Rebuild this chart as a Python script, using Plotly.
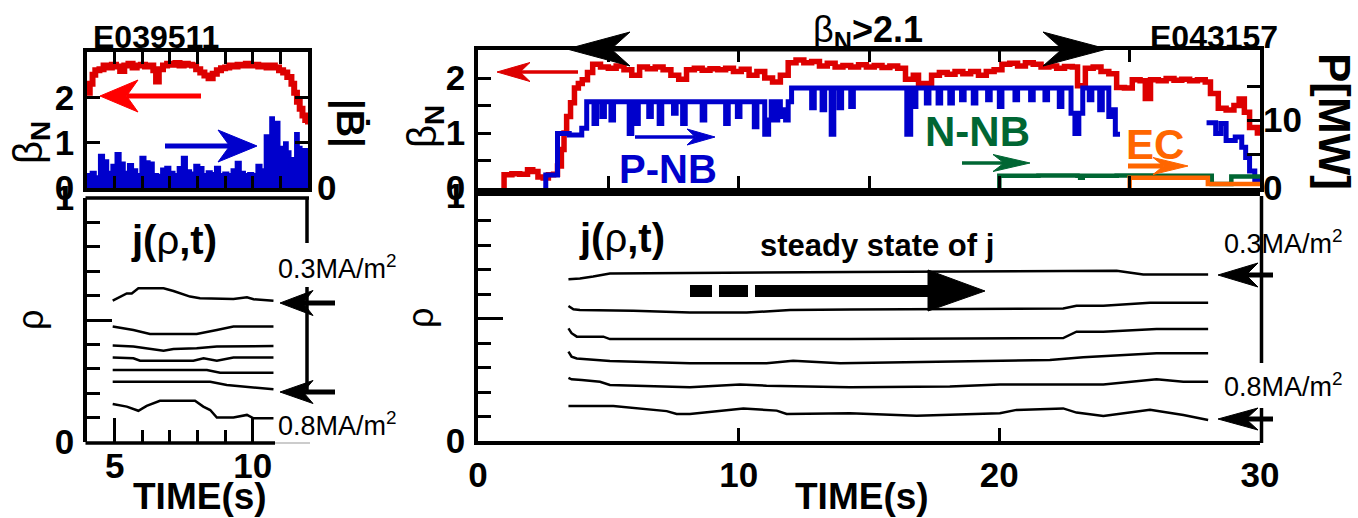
import plotly.graph_objects as go

W, H = 1358, 518
FAM = "Liberation Sans, Arial, Helvetica, sans-serif"
RED = "#dd0000"
BLUE = "#0000cc"
GREEN = "#006633"
ORANGE = "#ff6600"

# ---------------- data: left shot E039511 ----------------
tL_beta = [
    4.0, 4.1, 4.2, 4.3, 4.45, 4.6, 4.75, 4.9, 5.05, 5.2,
    5.35, 5.5, 5.65, 5.8, 5.95, 6.1, 6.25, 6.4, 6.5, 6.6,
    6.75, 6.9, 7.05, 7.2, 7.35, 7.5, 7.65, 7.8, 7.95, 8.1,
    8.25, 8.4, 8.55, 8.7, 8.85, 9.0, 9.15, 9.3, 9.45, 9.6,
    9.75, 9.9, 10.05, 10.2, 10.35, 10.5, 10.65, 10.8, 10.95, 11.1,
    11.25, 11.4, 11.5, 11.6, 11.7, 11.8, 11.9, 12.0]
betaL = [
    2.10, 2.30, 2.50, 2.60, 2.62, 2.70, 2.66, 2.72, 2.68, 2.58,
    2.70, 2.74, 2.66, 2.70, 2.72, 2.68, 2.70, 2.60, 2.35, 2.62,
    2.70, 2.74, 2.72, 2.76, 2.70, 2.74, 2.72, 2.70, 2.62, 2.55,
    2.48, 2.42, 2.52, 2.60, 2.64, 2.66, 2.70, 2.68, 2.72, 2.70,
    2.74, 2.70, 2.72, 2.68, 2.70, 2.66, 2.70, 2.66, 2.60, 2.55,
    2.45, 2.30, 2.10, 1.90, 1.75, 1.60, 1.50, 1.40]

tL_bdot = [
    4.0, 4.15, 4.3, 4.45, 4.6, 4.75, 4.9, 5.05, 5.2, 5.35,
    5.5, 5.65, 5.8, 5.95, 6.1, 6.25, 6.4, 6.55, 6.7, 6.85,
    7.0, 7.15, 7.3, 7.45, 7.6, 7.75, 7.9, 8.05, 8.2, 8.35,
    8.5, 8.65, 8.8, 8.95, 9.1, 9.25, 9.4, 9.55, 9.7, 9.85,
    10.0, 10.15, 10.3, 10.45, 10.55, 10.65, 10.75, 10.85, 10.95, 11.05,
    11.15, 11.25, 11.35, 11.45, 11.55, 11.65, 11.75, 11.85, 11.95, 12.0]
bdotL = [
    0.30, 0.35, 0.25, 0.72, 0.60, 0.35, 0.50, 0.76, 0.55, 0.35,
    0.52, 0.40, 0.30, 0.68, 0.58, 0.55, 0.30, 0.28, 0.42, 0.46,
    0.35, 0.30, 0.45, 0.68, 0.38, 0.33, 0.50, 0.45, 0.30, 0.36,
    0.32, 0.46, 0.30, 0.33, 0.30, 0.40, 0.57, 0.35, 0.30, 0.32,
    0.30, 0.50, 0.40, 1.15, 0.60, 1.55, 0.20, 1.45, 0.90, 0.15,
    1.00, 0.80, 0.10, 0.65, 1.20, 0.90, 0.15, 0.85, 0.30, 0.30]

# j(rho,t) contours, left shot
jL1_t = [4.93, 5.20, 5.44, 5.62, 5.86, 6.77, 7.13, 7.73, 8.09, 9.30, 9.79, 10.03, 10.75]
jL1_r = [0.579, 0.596, 0.609, 0.609, 0.630, 0.630, 0.619, 0.596, 0.589, 0.586, 0.593, 0.585, 0.579]
jL2_t = [4.93, 5.68, 6.28, 7.97, 8.70, 9.30, 10.75]
jL2_r = [0.473, 0.459, 0.443, 0.443, 0.459, 0.473, 0.473]
jL3_t = [4.93, 5.68, 6.77, 7.13, 7.97, 8.70, 10.75]
jL3_r = [0.395, 0.391, 0.374, 0.381, 0.384, 0.391, 0.393]
jL4_t = [4.93, 5.68, 5.92, 7.85, 8.22, 8.70, 9.30, 10.75]
jL4_r = [0.346, 0.343, 0.333, 0.333, 0.343, 0.333, 0.346, 0.346]
jL5_t = [4.93, 8.34, 8.82, 10.75]
jL5_r = [0.295, 0.295, 0.284, 0.284]
jL6_t = [4.93, 8.46, 9.06, 10.03, 10.51, 10.75]
jL6_r = [0.247, 0.247, 0.234, 0.224, 0.216, 0.216]
jL7_t = [4.93, 5.44, 5.86, 6.16, 6.64, 7.91, 8.21, 8.46, 8.70, 9.30, 9.79, 10.03, 10.75]
jL7_r = [0.156, 0.145, 0.128, 0.148, 0.169, 0.169, 0.145, 0.131, 0.100, 0.100, 0.111, 0.097, 0.097]

# ---------------- data: right shot E043157 ----------------
tR_beta = [
    0.97, 1.0, 1.3, 1.6, 1.9, 2.1, 2.3, 2.5, 2.7, 2.9,
    3.05, 3.2, 3.3, 3.4, 3.55, 3.7, 3.85, 4.0, 4.2, 4.4,
    4.7, 5.0, 5.3, 5.6, 5.9, 6.2, 6.5, 6.8, 7.1, 7.4,
    7.7, 8.0, 8.3, 8.6, 8.9, 9.2, 9.5, 9.8, 10.1, 10.4,
    10.7, 11.0, 11.3, 11.6, 11.9, 12.2, 12.5, 12.8, 13.1, 13.4,
    13.7, 14.0, 14.3, 14.6, 14.9, 15.2, 15.5, 15.8, 16.1, 16.4,
    16.7, 16.9, 17.2, 17.4, 17.7, 18.0, 18.3, 18.6, 18.9, 19.2,
    19.5, 19.8, 20.1, 20.4, 20.7, 21.0, 21.3, 21.6, 21.9, 22.2,
    22.5, 22.8, 23.0, 23.3, 23.6, 23.9, 24.2, 24.5, 24.8, 25.1,
    25.4, 25.6, 25.8, 26.1, 26.4, 26.7, 27.0, 27.3, 27.6, 27.9,
    28.1, 28.4, 28.7, 29.0, 29.2, 29.4, 29.6, 29.9, 30.0]
betaR = [
    0.00, 0.24, 0.26, 0.25, 0.33, 0.30, 0.20, 0.18, 0.24, 0.25,
    0.40, 0.70, 1.00, 1.30, 1.55, 1.82, 1.90, 1.97, 2.10, 2.25,
    2.20, 2.18, 2.22, 2.15, 2.05, 2.20, 2.17, 2.20, 2.15, 2.05,
    1.98, 2.15, 2.18, 2.14, 2.17, 2.15, 2.18, 2.12, 2.16, 2.05,
    2.12, 2.00, 1.93, 2.05, 2.28, 2.33, 2.28, 2.30, 2.22, 2.27,
    2.20, 2.23, 2.20, 2.24, 2.20, 2.23, 2.19, 2.22, 2.18, 1.98,
    2.05, 1.90, 1.84, 2.05, 2.10, 2.07, 2.12, 2.08, 2.12, 2.05,
    2.12, 2.15, 2.25, 2.27, 2.22, 2.28, 2.25, 2.20, 2.22, 2.18,
    2.21, 2.20, 1.86, 2.18, 2.20, 2.12, 2.08, 1.83, 1.82, 1.97,
    1.95, 1.63, 1.97, 1.95, 1.99, 1.96, 1.98, 1.95, 1.97, 1.93,
    1.72, 1.45, 1.42, 1.50, 1.62, 1.38, 1.10, 1.00, 0.98]

tR_pnb = [
    2.55, 2.6, 3.05, 3.5, 3.98, 4.17, 4.45, 4.55, 4.75, 4.85,
    5.1, 5.2, 5.8, 5.9, 6.05, 6.15, 6.55, 6.65, 6.95, 7.05,
    7.5, 7.6, 7.85, 7.95, 8.6, 8.7, 9.5, 9.6, 9.95, 10.05,
    10.6, 10.7, 11.0, 11.15, 11.25, 11.4, 11.5, 11.6, 11.7, 11.8,
    11.9, 12.03, 12.8, 12.9, 13.2, 13.3, 13.55, 13.65, 13.85, 13.95,
    14.3, 14.4, 16.45, 16.6, 16.7, 16.8, 17.2, 17.3, 17.65, 17.75,
    18.1, 18.2, 18.55, 18.65, 19.0, 19.1, 19.55, 19.65, 20.0, 20.1,
    20.6, 20.7, 21.2, 21.3, 21.75, 21.85, 22.3, 22.4, 22.75, 22.9,
    23.05, 23.2, 23.45, 23.55, 23.85, 23.95, 24.2, 24.3, 24.45, 24.63,
    24.64, 27.95, 28.3, 28.5, 28.7, 29.05, 29.3, 29.45, 29.6, 29.8,
    30.0]
pnb = [
    0.0, 1.9, 8.0, 7.8, 8.8, 12.7, 9.5, 12.7, 10.5, 12.7,
    10.0, 12.7, 8.0, 12.7, 9.5, 12.7, 10.5, 12.7, 9.5, 12.7,
    11.0, 12.7, 9.5, 12.7, 10.0, 12.7, 9.5, 12.7, 10.5, 12.7,
    9.0, 12.7, 7.9, 10.0, 12.7, 10.0, 12.7, 10.5, 11.5, 10.0,
    12.7, 14.7, 11.8, 14.7, 11.5, 14.7, 7.9, 14.7, 11.8, 14.7,
    12.0, 14.7, 7.9, 14.7, 12.0, 14.7, 12.5, 14.7, 12.5, 14.7,
    12.5, 14.7, 13.0, 14.7, 12.5, 14.7, 13.0, 14.7, 12.0, 14.7,
    13.0, 14.7, 13.0, 14.7, 13.0, 14.7, 12.0, 14.7, 11.0, 8.0,
    11.0, 14.7, 13.0, 14.7, 11.5, 14.7, 10.5, 11.5, 7.9, 7.9,
    None, 9.6, 8.0, 9.5, 7.0, 7.5, 6.0, 4.5, 2.5, 1.2,
    0.5]

tR_nnb = [19.95, 20.0, 21.5, 23.0, 23.1, 23.2, 24.5, 26.0, 27.5, 28.15, 28.9, 30.0]
nnb = [0.0, 1.8, 1.85, 1.8, 1.5, 1.8, 1.85, 1.8, 1.8, 0.6, 1.7, 1.7]

tR_ec = [24.98, 25.0, 26.5, 28.0, 30.0]
ec = [0.0, 1.5, 1.5, 0.6, 0.6]

# j(rho,t) contours, right shot
jR1_t = [3.47, 3.91, 4.42, 5.06, 14.27, 24.5, 25.52, 28.01]
jR1_r = [0.660, 0.663, 0.671, 0.684, 0.690, 0.695, 0.680, 0.680]
jR2_t = [3.47, 3.66, 3.91, 5.96, 8.13, 10.31, 11.97, 14.27, 22.45, 22.96, 23.99, 25.78, 28.01]
jR2_r = [0.551, 0.538, 0.535, 0.532, 0.524, 0.524, 0.535, 0.537, 0.541, 0.552, 0.552, 0.564, 0.564]
jR3_t = [3.47, 3.59, 3.79, 4.81, 5.06, 14.27, 22.45, 22.96, 23.99, 26.03, 28.01]
jR3_r = [0.460, 0.440, 0.426, 0.426, 0.416, 0.416, 0.420, 0.446, 0.446, 0.457, 0.457]
jR4_t = [3.47, 3.59, 3.79, 5.06, 8.13, 11.07, 12.09, 13.89, 21.94, 23.22, 26.03, 28.01]
jR4_r = [0.365, 0.344, 0.337, 0.327, 0.317, 0.317, 0.328, 0.317, 0.331, 0.342, 0.358, 0.358]
jR5_t = [3.47, 3.59, 3.98, 4.68, 5.06, 8.13, 10.05, 11.07, 14.27, 18.1, 20.02, 23.99, 26.03, 27.06, 28.01]
jR5_r = [0.258, 0.252, 0.249, 0.242, 0.229, 0.219, 0.231, 0.226, 0.219, 0.222, 0.231, 0.231, 0.252, 0.242, 0.242]
jR6_t = [3.47, 5.19, 7.24, 7.62, 8.13, 10.18, 11.46, 11.84, 14.27, 16.83, 20.02, 20.66, 22.45,
         22.96, 23.99, 25.78, 27.06, 28.01]
jR6_r = [0.143, 0.143, 0.122, 0.110, 0.110, 0.133, 0.124, 0.110, 0.113, 0.103, 0.113, 0.127, 0.133,
         0.116, 0.102, 0.127, 0.106, 0.086]


# ---------------- helpers ----------------
def X(px):
    return px / W


def Y(py):
    return 1 - py / H


fig = go.Figure()

# top-left panel
fig.add_trace(go.Scatter(x=tL_bdot, y=bdotL, xaxis="x", yaxis="y2", mode="lines",
                         line=dict(color=BLUE, width=3, shape="hv"), fill="tozeroy",
                         fillcolor=BLUE))
fig.add_trace(go.Scatter(x=tL_beta, y=betaL, xaxis="x", yaxis="y", mode="lines",
                         line=dict(color=RED, width=6, shape="hv")))

# bottom-left contours
for tt, rr in [(jL1_t, jL1_r), (jL2_t, jL2_r), (jL3_t, jL3_r), (jL4_t, jL4_r),
               (jL5_t, jL5_r), (jL6_t, jL6_r), (jL7_t, jL7_r)]:
    fig.add_trace(go.Scatter(x=tt, y=rr, xaxis="x2", yaxis="y3", mode="lines",
                             line=dict(color="black", width=2.5)))

# top-right panel
fig.add_trace(go.Scatter(x=tR_pnb, y=pnb, xaxis="x3", yaxis="y5", mode="lines",
                         line=dict(color=BLUE, width=5, shape="hv"), connectgaps=False))
fig.add_trace(go.Scatter(x=tR_nnb, y=nnb, xaxis="x3", yaxis="y5", mode="lines",
                         line=dict(color=GREEN, width=4.5, shape="hv")))
fig.add_trace(go.Scatter(x=tR_ec, y=ec, xaxis="x3", yaxis="y5", mode="lines",
                         line=dict(color=ORANGE, width=4.5, shape="hv")))
fig.add_trace(go.Scatter(x=tR_beta, y=betaR, xaxis="x3", yaxis="y4", mode="lines",
                         line=dict(color=RED, width=5.5, shape="hv")))

# bottom-right contours
for tt, rr in [(jR1_t, jR1_r), (jR2_t, jR2_r), (jR3_t, jR3_r), (jR4_t, jR4_r),
               (jR5_t, jR5_r), (jR6_t, jR6_r)]:
    fig.add_trace(go.Scatter(x=tt, y=rr, xaxis="x4", yaxis="y6", mode="lines",
                             line=dict(color="black", width=2.5)))

# ---------------- axes ----------------
TF = dict(family=FAM, size=35, color="black", weight="bold")
common = dict(showgrid=False, zeroline=False, linecolor="black", linewidth=3.5,
              tickcolor="black", tickwidth=3, ticks="inside", fixedrange=True,
              automargin=False)
rho_minor = dict(tickvals=[0.1, 0.2, 0.3, 0.4, 0.6, 0.7, 0.8, 0.9], ticklen=13,
                 tickwidth=3, tickcolor="black", ticks="inside")

fig.update_layout(
    width=W, height=H, autosize=False,
    margin=dict(l=0, r=0, t=0, b=0, pad=0, autoexpand=False),
    paper_bgcolor="white", plot_bgcolor="white",
    showlegend=False,
    xaxis=dict(domain=[X(87), X(308)], range=[4, 12], anchor="y", showline=True,
               mirror="ticks", tickvals=[5, 6, 7, 8, 9, 10, 11], ticklen=12,
               showticklabels=False, **common),
    yaxis=dict(domain=[Y(188), Y(52)], range=[0, 3.0], anchor="x", showline=True,
               mirror="ticks", tickvals=[0, 1, 2], ticktext=["0", "1", "2"], ticklen=13,
               tickfont=TF, ticklabelstandoff=2, **common),
    yaxis2=dict(overlaying="y", side="right", anchor="x", range=[0, 3.0], tickvals=[0],
                ticktext=["0"], showline=False, showgrid=False, zeroline=False, ticks="",
                tickfont=TF, ticklabelstandoff=8, fixedrange=True, automargin=False),
    xaxis2=dict(domain=[X(87), X(308)], range=[4, 12], anchor="y3", showline=False,
                tickvals=[5, 10], ticktext=["5", "10"], ticklen=24, tickfont=TF,
                minor=dict(tickvals=[6, 7, 8, 9], ticklen=12, tickwidth=3,
                           tickcolor="black", ticks="inside"),
                **common),
    yaxis3=dict(domain=[Y(442), Y(198)], range=[0, 1], anchor="x2", showline=True,
                tickvals=[0, 0.5, 1], ticktext=["0", "", "1"], ticklen=25, tickfont=TF,
                minor=rho_minor, ticklabelstandoff=2, **common),
    xaxis3=dict(domain=[X(478), X(1260)], range=[0, 30], anchor="y4", showline=True,
                mirror="ticks", tickvals=[5, 10, 15, 20, 25], ticklen=12,
                showticklabels=False, **common),
    yaxis4=dict(domain=[Y(188), Y(50)], range=[0, 2.51], anchor="x3", showline=True,
                mirror=True, tickvals=[0, 0.5, 1, 1.5, 2], ticktext=["0", "", "1", "", "2"],
                ticklen=13, tickfont=TF, ticklabelstandoff=2, **common),
    yaxis5=dict(overlaying="y4", side="right", anchor="x3", range=[0, 20.3],
                tickvals=[0, 5, 10, 15], ticktext=["0", "", "10", ""], showline=False,
                ticklen=13, tickfont=TF, ticklabelstandoff=2,
                **{k: v for k, v in common.items() if k not in ("linewidth",)}),
    xaxis4=dict(domain=[X(478), X(1260)], range=[0, 30], anchor="y6", showline=True,
                mirror=True, tickvals=[0, 10, 20, 30], ticktext=["0", "10", "20", "30"],
                ticklen=13, tickfont=TF, **common),
    yaxis6=dict(domain=[Y(441), Y(196)], range=[0, 1], anchor="x4", showline=True,
                tickvals=[0, 0.5, 1], ticktext=["0", "", "1"], ticklen=25, tickfont=TF,
                minor=rho_minor, ticklabelstandoff=2, **common),
)

# ---------------- shapes: frames and arrows ----------------
shapes = []


def seg(x0, y0, x1, y1, width=3.5, color="black"):
    shapes.append(dict(type="line", xref="paper", yref="paper", x0=X(x0), y0=Y(y0),
                       x1=X(x1), y1=Y(y1), line=dict(color=color, width=width)))


def harrow(tip, tail, y, head_len, half, width, color, notch=0.3):
    d = 1 if tail > tip else -1
    back = tip + d * head_len
    nx = tip + d * head_len * (1 - notch)
    seg(tail, y, nx, y, width, color)
    path = (f"M {X(tip)} {Y(y)} L {X(back)} {Y(y - half)} L {X(nx)} {Y(y)} "
            f"L {X(back)} {Y(y + half)} Z")
    shapes.append(dict(type="path", xref="paper", yref="paper", path=path,
                       fillcolor=color, line=dict(color=color, width=1)))


def rect(x0, y0, x1, y1, color="black"):
    shapes.append(dict(type="rect", xref="paper", yref="paper", x0=X(x0), y0=Y(y0),
                       x1=X(x1), y1=Y(y1), fillcolor=color, line=dict(width=0)))


# bottom-left frame pieces
seg(85.5, 198, 309, 198)
seg(85.5, 443, 275, 443)
seg(275, 443, 310, 443, 1.5, "#bbbbbb")
seg(307, 198, 307, 243)
seg(307, 287, 307, 393)
# bottom-right right border pieces
seg(1261.5, 196, 1261.5, 363)
seg(1261.5, 408, 1261.5, 443)

# big double arrow (beta_N > 2.1)
seg(611, 49, 1062, 49, 5)
for tip, back in [(567, 630), (1107, 1043)]:
    nx = tip + (back - tip) * 0.7
    shapes.append(dict(type="path", xref="paper", yref="paper",
                       path=(f"M {X(tip)} {Y(49)} L {X(back)} {Y(32)} L {X(nx)} {Y(49)} "
                             f"L {X(back)} {Y(66)} Z"),
                       fillcolor="black", line=dict(color="black", width=1)))

harrow(100, 201, 96, 38, 16, 5, "#ff0000")
harrow(257, 165, 146, 39, 16, 5, BLUE)
harrow(497, 578, 72, 33, 9.5, 3.5, RED)
harrow(715, 635, 137, 28, 8, 3.5, BLUE)
harrow(1030, 962, 163, 37, 8.5, 3.5, GREEN)
harrow(1188, 1128, 166, 35, 8.5, 5, ORANGE)
harrow(280, 335, 303, 33, 12.5, 5, "black")
harrow(280, 335, 392, 33, 11.5, 5, "black")
harrow(1218, 1273, 275, 40, 12, 5, "black")
harrow(1218, 1273, 419, 40, 11, 5, "black")

# steady-state arrow
rect(690, 285, 712, 297)
rect(719, 285, 748, 297)
rect(755, 285, 930, 297)
shapes.append(dict(type="path", xref="paper", yref="paper",
                   path=f"M {X(985)} {Y(291)} L {X(928)} {Y(270)} L {X(928)} {Y(311)} Z",
                   fillcolor="black", line=dict(color="black", width=1)))

fig.update_layout(shapes=shapes)


# ---------------- text ----------------
def txt(text, px, py, size, color="black", xanchor="center", angle=0):
    return dict(text=text, x=X(px), y=Y(py), xref="paper", yref="paper", showarrow=False,
                xanchor=xanchor, yanchor="middle", textangle=angle,
                font=dict(family=FAM, size=size, color=color))


ann = [
    txt("<b>E039511</b>", 91, 37, 32, xanchor="left"),
    txt("<b>E043157</b>", 1148, 37, 32, xanchor="left"),
    txt("β<sub><b>N</b></sub><b>&gt;2.1</b>", 811, 32, 36, xanchor="left"),
    txt("β<sub><b>N</b></sub>", 31, 143, 40, angle=-90),
    txt("β<sub><b>N</b></sub>", 425, 127, 40, angle=-90),
    txt("<b>|Ḃ|</b>", 349, 124, 38, angle=90),
    txt("<b>P[MW]</b>", 1334, 121, 44, angle=90),
    txt("ρ", 30, 320, 36, angle=-90),
    txt("ρ", 420, 318, 36, angle=-90),
    txt("<b>TIME(s)</b>", 200, 496, 37),
    txt("<b>TIME(s)</b>", 862, 496, 37),
    txt("<b>j(</b>ρ<b>,t)</b>", 174, 240, 40),
    txt("<b>j(</b>ρ<b>,t)</b>", 622, 238, 40),
    txt("<b>steady state of j</b>", 877, 245, 31),
    txt("<b>P-NB</b>", 668, 169, 40, BLUE),
    txt("<b>N-NB</b>", 977, 131, 42, GREEN),
    txt("<b>EC</b>", 1155, 144, 42, ORANGE),
    txt("0.3MA/m<sup>2</sup>", 276, 267, 27, xanchor="left"),
    txt("0.8MA/m<sup>2</sup>", 276, 424, 27, xanchor="left"),
    txt("0.3MA/m<sup>2</sup>", 1222, 242, 27, xanchor="left"),
    txt("0.8MA/m<sup>2</sup>", 1222, 385, 27, xanchor="left"),
]
fig.update_layout(annotations=ann)

fig.write_html("out.html")
